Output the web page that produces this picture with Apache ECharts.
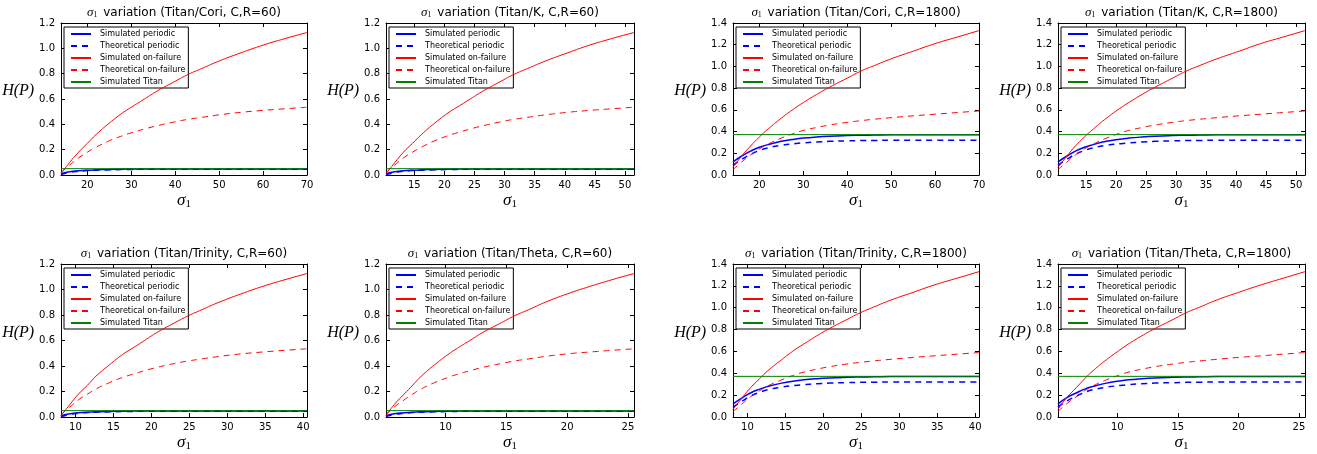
<!DOCTYPE html>
<html>
<head>
<meta charset="utf-8">
<script src="https://cdn.jsdelivr.net/npm/echarts@6/dist/echarts.min.js"></script>
<style>
html, body { margin: 0; padding: 0; background: #fff; }
#chart { width: 1317px; height: 454px; }
</style>
</head>
<body>
<div id="chart"></div>
<script>
// sigma_1 sample points, one list per machine
var sigmaCori = [14, 16, 18, 20, 22, 25, 28, 30, 33, 36, 40, 43, 46, 50, 55, 60, 65, 70];
var sigmaK = [10.3, 11.8, 13.2, 14.7, 16.2, 18.4, 20.6, 22.1, 24.3, 26.5, 29.4, 31.6, 33.8, 36.8, 40.5, 44.1, 47.8, 51.5];
var sigmaTrinity = [8.1, 9.3, 10.4, 11.6, 12.7, 14.5, 16.2, 17.4, 19.1, 20.8, 23.1, 24.9, 26.6, 28.9, 31.8, 34.7, 37.6, 40.5];
var sigmaTheta = [5.1, 5.8, 6.6, 7.3, 8.0, 9.1, 10.2, 10.9, 12.0, 13.1, 14.6, 15.7, 16.8, 18.2, 20.0, 21.9, 23.7, 25.5];

// H(P) values, C,R=60
var simPeriodic60 = [0.010, 0.025, 0.033, 0.038, 0.041, 0.044, 0.046, 0.047, 0.048, 0.048, 0.048, 0.048, 0.048, 0.048, 0.048, 0.048, 0.048, 0.048];
var theoPeriodic60 = [0.004, 0.020, 0.029, 0.035, 0.038, 0.041, 0.043, 0.044, 0.045, 0.045, 0.045, 0.045, 0.045, 0.045, 0.045, 0.045, 0.045, 0.045];
var simFailure60 = [0.01, 0.10, 0.18, 0.25, 0.32, 0.41, 0.49, 0.535, 0.60, 0.665, 0.74, 0.795, 0.84, 0.90, 0.965, 1.025, 1.077, 1.125];
var theoFailure60 = [0.02, 0.08, 0.135, 0.18, 0.22, 0.27, 0.31, 0.333, 0.363, 0.39, 0.42, 0.44, 0.455, 0.475, 0.495, 0.51, 0.523, 0.535];
var simTitan60 = 0.05;

// H(P) values, C,R=1800
var simPeriodic1800 = [0.12, 0.175, 0.22, 0.255, 0.28, 0.31, 0.33, 0.34, 0.35, 0.357, 0.363, 0.366, 0.368, 0.37, 0.37, 0.37, 0.37, 0.37];
var theoPeriodic1800 = [0.09, 0.145, 0.19, 0.225, 0.25, 0.273, 0.288, 0.296, 0.304, 0.31, 0.314, 0.317, 0.318, 0.32, 0.32, 0.32, 0.32, 0.32];
var simFailure1800 = [0.07, 0.175, 0.267, 0.35, 0.424, 0.524, 0.613, 0.667, 0.741, 0.809, 0.892, 0.955, 1.005, 1.07, 1.14, 1.21, 1.27, 1.33];
var theoFailure1800 = [0.05, 0.12, 0.185, 0.24, 0.285, 0.34, 0.385, 0.41, 0.437, 0.46, 0.485, 0.50, 0.513, 0.528, 0.545, 0.56, 0.575, 0.59];
var simTitan1800 = 0.372;

// x tick labels per machine
var ticksCori = [20, 30, 40, 50, 60, 70];
var ticksK = [15, 20, 25, 30, 35, 40, 45, 50];
var ticksTrinity = [10, 15, 20, 25, 30, 35, 40];
var ticksTheta = [10, 15, 20, 25];

var seriesNames = ['Simulated periodic', 'Theoretical periodic', 'Simulated on-failure', 'Theoretical on-failure', 'Simulated Titan'];

var machines = {
    Cori: { sigma: sigmaCori, ticks: ticksCori },
    K: { sigma: sigmaK, ticks: ticksK },
    Trinity: { sigma: sigmaTrinity, ticks: ticksTrinity },
    Theta: { sigma: sigmaTheta, ticks: ticksTheta }
};
var runs = {
    60: { ymax: 1.2, lines: [simPeriodic60, theoPeriodic60, simFailure60, theoFailure60], titan: simTitan60 },
    1800: { ymax: 1.4, lines: [simPeriodic1800, theoPeriodic1800, simFailure1800, theoFailure1800], titan: simTitan1800 }
};

// panel order, left to right, top to bottom
var panels = [
    ['Cori', 60], ['K', 60], ['Cori', 1800], ['K', 1800],
    ['Trinity', 60], ['Theta', 60], ['Trinity', 1800], ['Theta', 1800]
];
var colLeft = [61, 386, 733, 1058];
var colWidth = [246, 248, 246, 247];
var rowTop = [23, 264];
var rowHeight = [152, 153];

var font = 'DejaVu Sans';
var serif = 'Liberation Serif';
var styles = [
    { color: '#0000ff', width: 1.5, type: 'solid' },
    { color: '#0000ff', width: 1.5, type: [6, 5] },
    { color: '#ff0000', width: 1, type: 'solid' },
    { color: '#ff0000', width: 1, type: [6, 5] },
    { color: '#008000', width: 1, type: 'solid' }
];

var option = {
    animation: false,
    backgroundColor: '#fff',
    title: [], grid: [], xAxis: [], yAxis: [], legend: [], series: []
};

panels.forEach(function (p, i) {
    var m = machines[p[0]];
    var r = runs[p[1]];
    var row = Math.floor(i / 4), col = i % 4;
    var lo = m.sigma[0], hi = m.sigma[m.sigma.length - 1];
    var left = colLeft[col], top = rowTop[row];

    option.grid.push({ left: left, top: top, width: colWidth[col], height: rowHeight[row] });

    option.title.push({
        text: '{s|σ}{n|1} variation (Titan/' + p[0] + ', C,R=' + p[1] + ')',
        left: left + colWidth[col] / 2,
        textAlign: 'center',
        top: top - 17,
        padding: 0,
        textStyle: {
            fontSize: 12, fontWeight: 'normal', fontFamily: font, color: '#000',
            rich: {
                s: { fontFamily: serif, fontStyle: 'italic', fontSize: 13, color: '#000' },
                n: { fontFamily: serif, fontSize: 8, color: '#000', padding: [5, 2, 0, 0] }
            }
        }
    });

    var tickStyle = { inside: true, length: 4, lineStyle: { color: '#000' } };
    // bottom and top x axes
    option.xAxis.push({
        type: 'value', gridIndex: i, min: lo, max: hi,
        axisLine: { show: true, onZero: false, lineStyle: { color: '#000' } },
        axisTick: Object.assign({ customValues: m.ticks }, tickStyle),
        axisLabel: { customValues: m.ticks, color: '#000', fontSize: 10, fontFamily: font, margin: 5 },
        splitLine: { show: false },
        name: '{s|σ}{n|1}', nameLocation: 'middle', nameGap: 16,
        nameTextStyle: {
            rich: {
                s: { fontFamily: serif, fontStyle: 'italic', fontSize: 17, color: '#000' },
                n: { fontFamily: serif, fontSize: 11, color: '#000', padding: [8, 0, 0, 0] }
            }
        }
    });
    option.xAxis.push({
        type: 'value', gridIndex: i, min: lo, max: hi, position: 'top',
        axisLine: { show: true, onZero: false, lineStyle: { color: '#000' } },
        axisTick: Object.assign({ customValues: m.ticks }, tickStyle),
        axisLabel: { show: false },
        splitLine: { show: false }
    });
    // left and right y axes
    option.yAxis.push({
        type: 'value', gridIndex: i, min: 0, max: r.ymax, interval: 0.2,
        axisLine: { show: true, lineStyle: { color: '#000' } },
        axisTick: tickStyle,
        axisLabel: {
            color: '#000', fontSize: 10, fontFamily: font, margin: 6,
            formatter: function (v) { return v.toFixed(1); }
        },
        splitLine: { show: false },
        name: 'H(P)', nameLocation: 'middle', nameRotate: 0, nameGap: 22,
        nameTextStyle: { fontFamily: serif, fontStyle: 'italic', fontSize: 16, color: '#000', verticalAlign: 'bottom' }
    });
    option.yAxis.push({
        type: 'value', gridIndex: i, min: 0, max: r.ymax, interval: 0.2, position: 'right',
        axisLine: { show: true, lineStyle: { color: '#000' } },
        axisTick: tickStyle,
        axisLabel: { show: false },
        splitLine: { show: false }
    });

    option.legend.push({
        data: seriesNames,
        orient: 'vertical',
        left: left + 3, top: top + 4,
        itemWidth: 20, itemHeight: 8, itemGap: 4,
        padding: [3, 3, 2, 6],
        backgroundColor: '#fff',
        borderColor: '#000', borderWidth: 1, borderRadius: 0,
        selectedMode: false,
        itemStyle: { opacity: 0 },
        textStyle: { fontSize: 8, fontFamily: font, color: '#000', padding: [0, 0, 0, 4] }
    });

    var lines = r.lines.concat([null]);
    lines.forEach(function (ys, k) {
        var data = ys
            ? m.sigma.map(function (x, j) { return [x, ys[j]]; })
            : [[lo, r.titan], [hi, r.titan]];
        option.series.push({
            name: seriesNames[k],
            type: 'line',
            xAxisIndex: 2 * i, yAxisIndex: 2 * i,
            data: data,
            symbol: 'none',
            smooth: ys ? 0.5 : false,
            lineStyle: styles[k],
            itemStyle: { color: styles[k].color },
            z: 2 + k
        });
    });
});

var myChart = echarts.init(document.getElementById('chart'));
myChart.setOption(option);
</script>
</body>
</html>
